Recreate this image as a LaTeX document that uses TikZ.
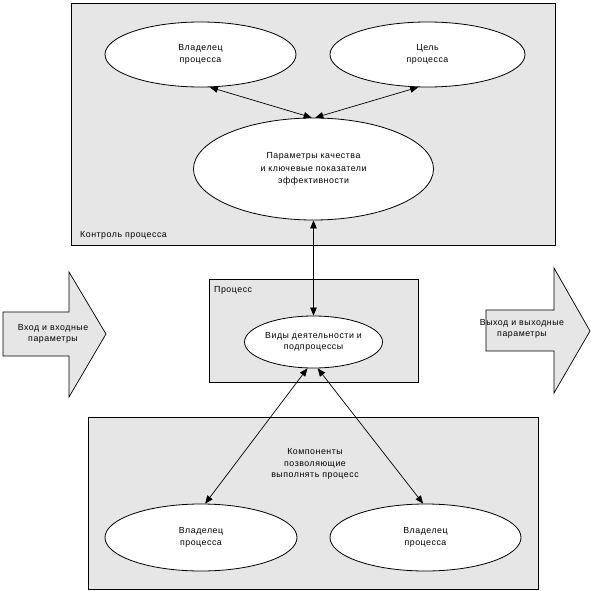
\documentclass[tikz,border=0pt]{standalone}
\usepackage{fontspec}
\setmainfont[LetterSpace=6]{Liberation Sans}
\usetikzlibrary{shapes.geometric,arrows.meta}
\definecolor{boxgray}{RGB}{230,230,230}
\tikzset{
  panel/.style={draw=black, fill=boxgray, line width=0.8pt},
  oval/.style={ellipse, draw=black, fill=white, line width=0.8pt, inner sep=0pt, align=center, font=\fontsize{8.8}{11.5}\selectfont},
  lbl/.style={inner sep=0pt, align=center, font=\fontsize{8.8}{11.5}\selectfont},
  conn/.style={line width=0.7pt, {Triangle[length=8pt,width=6.5pt]}-{Triangle[length=8pt,width=6.5pt]}},
  blockarrow/.style={draw=black, fill=boxgray, line width=0.7pt}
}
\begin{document}
\begin{tikzpicture}[x=1pt,y=-1pt]
\useasboundingbox (0,0) rectangle (591,591);
% panels
\draw[panel] (71,3) rectangle (555,245);
\draw[panel] (209,279) rectangle (418,382);
\draw[panel] (88,417) rectangle (538,589);
% block arrows
\draw[blockarrow] (3,312) -- (69,312) -- (69,272) -- (106,334) -- (69,397) -- (69,356) -- (3,356) -- cycle;
\draw[blockarrow] (486,310) -- (554,310) -- (554,268) -- (590,331) -- (554,393) -- (554,351) -- (486,351) -- cycle;
\node[lbl] (inp) at (53,334) {Вход и входные\\параметры};
\node[lbl] (outp) at (522,329) {Выход и выходные\\параметры};
% labels
\node[lbl, anchor=west] (ctrl) at (80,235) {Контроль процесса};
\node[lbl, anchor=west] (proc) at (214,290) {Процесс};
\node[lbl] (comp) at (315,464) {Компоненты\\позволяющие\\выполнять процесс};
% ellipses
\node[oval, minimum width=191pt, minimum height=65pt] (own1) at (200.5,54.5) {Владелец\\процесса};
\node[oval, minimum width=195pt, minimum height=65pt] (goal) at (427.5,54.5) {Цель\\процесса};
\node[oval, minimum width=240pt, minimum height=102pt, font=\fontsize{8.8}{12.5}\selectfont] (kpi) at (313.5,169) {Параметры качества\\и ключевые показатели\\эффективности};
\node[oval, minimum width=138pt, minimum height=52pt] (act) at (313.5,342) {Виды деятельности и\\подпроцессы};
\node[oval, minimum width=192pt, minimum height=67pt] (own2) at (201,537.5) {Владелец\\процесса};
\node[oval, minimum width=191pt, minimum height=67pt] (own3) at (425.5,537.5) {Владелец\\процесса};
% connectors
\draw[conn] (own1.286) -- (kpi.92);
\draw[conn] (goal.254) -- (kpi.88);
\draw[conn] (kpi.south) -- (act.north);
\draw[conn] (act.257) -- (own2.83);
\draw[conn] (act.279) -- (own3.94);
\end{tikzpicture}
\end{document}
